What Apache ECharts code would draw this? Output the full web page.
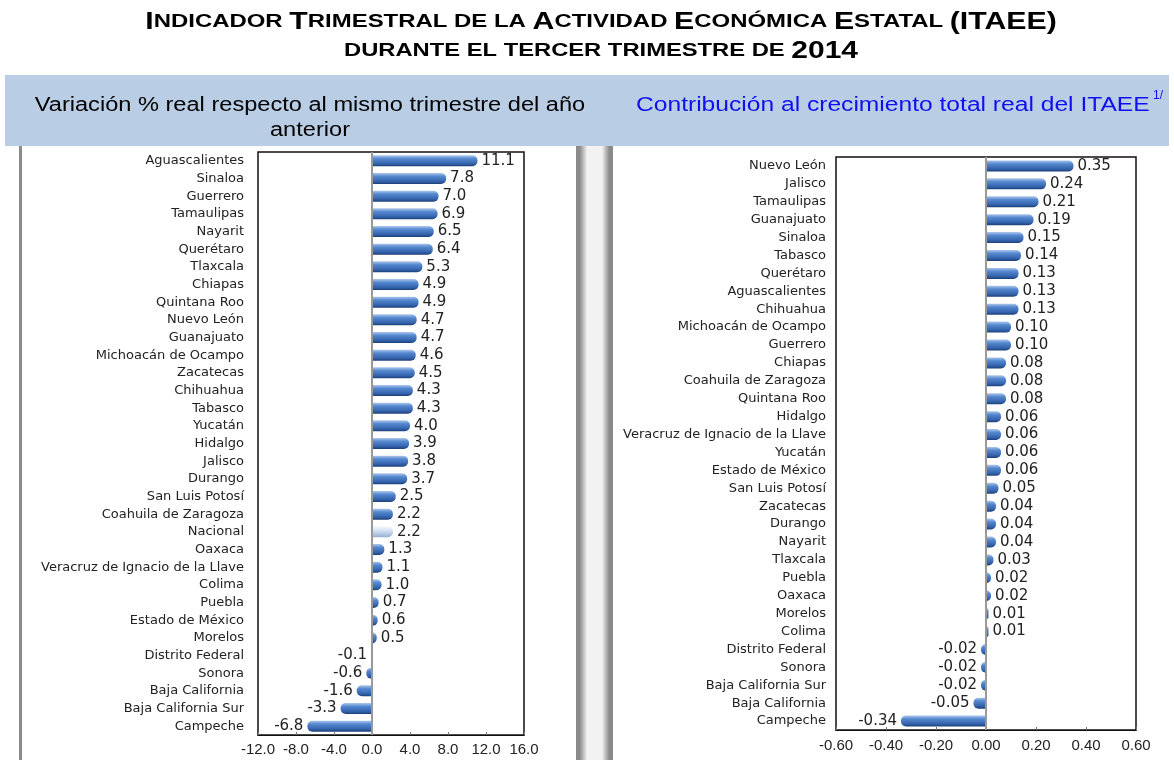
<!DOCTYPE html>
<html>
<head>
<meta charset="utf-8">
<script src="https://cdn.jsdelivr.net/npm/echarts@6/dist/echarts.min.js"></script>
<style>
  html, body { margin: 0; padding: 0; background: #fff; }
  #main { width: 1174px; height: 760px; }
</style>
</head>
<body>
<div id="main"></div>
<script>
// variación % real anual, III trimestre 2014
const estadosVar = ['Aguascalientes', 'Sinaloa', 'Guerrero', 'Tamaulipas', 'Nayarit', 'Querétaro', 'Tlaxcala',
  'Chiapas', 'Quintana Roo', 'Nuevo León', 'Guanajuato', 'Michoacán de Ocampo', 'Zacatecas', 'Chihuahua',
  'Tabasco', 'Yucatán', 'Hidalgo', 'Jalisco', 'Durango', 'San Luis Potosí', 'Coahuila de Zaragoza', 'Nacional',
  'Oaxaca', 'Veracruz de Ignacio de la Llave', 'Colima', 'Puebla', 'Estado de México', 'Morelos',
  'Distrito Federal', 'Sonora', 'Baja California', 'Baja California Sur', 'Campeche'];
const variacion = [11.1, 7.8, 7.0, 6.9, 6.5, 6.4, 5.3, 4.9, 4.9, 4.7, 4.7, 4.6, 4.5, 4.3, 4.3, 4.0, 3.9, 3.8, 3.7,
  2.5, 2.2, 2.2, 1.3, 1.1, 1.0, 0.7, 0.6, 0.5, -0.1, -0.6, -1.6, -3.3, -6.8];

// contribución al crecimiento del ITAEE
const estadosCon = ['Nuevo León', 'Jalisco', 'Tamaulipas', 'Guanajuato', 'Sinaloa', 'Tabasco', 'Querétaro',
  'Aguascalientes', 'Chihuahua', 'Michoacán de Ocampo', 'Guerrero', 'Chiapas', 'Coahuila de Zaragoza',
  'Quintana Roo', 'Hidalgo', 'Veracruz de Ignacio de la Llave', 'Yucatán', 'Estado de México', 'San Luis Potosí',
  'Zacatecas', 'Durango', 'Nayarit', 'Tlaxcala', 'Puebla', 'Oaxaca', 'Morelos', 'Colima', 'Distrito Federal',
  'Sonora', 'Baja California Sur', 'Baja California', 'Campeche'];
const contribucion = [0.35, 0.24, 0.21, 0.19, 0.15, 0.14, 0.13, 0.13, 0.13, 0.10, 0.10, 0.08, 0.08, 0.08, 0.06,
  0.06, 0.06, 0.06, 0.05, 0.04, 0.04, 0.04, 0.03, 0.02, 0.02, 0.01, 0.01, -0.02, -0.02, -0.02, -0.05, -0.34];

// escalas de los ejes
const varEje = { min: -12, max: 16, step: 4 };
const conEje = { min: -0.6, max: 0.6, step: 0.2 };

const chart = echarts.init(document.getElementById('main'));

// barra "cilindro" azul y la clara para Nacional
const azul = new echarts.graphic.LinearGradient(0, 0, 0, 1, [
  { offset: 0, color: '#aec8ec' },
  { offset: 0.3, color: '#5689d0' },
  { offset: 0.75, color: '#3464ad' },
  { offset: 1, color: '#1d3f7a' }
]);
const claro = new echarts.graphic.LinearGradient(0, 0, 0, 1, [
  { offset: 0, color: '#f4f8fd' },
  { offset: 0.4, color: '#d3e2f4' },
  { offset: 1, color: '#94aed0' }
]);

function barras(vals, nombres) {
  return vals.map((v, i) => ({
    value: v,
    itemStyle: {
      color: nombres[i] === 'Nacional' ? claro : azul,
      borderRadius: v < 0 ? [5, 0, 0, 5] : [0, 5, 5, 0]
    },
    label: { position: v < 0 ? 'left' : 'right' }
  }));
}

const fuente = 'Liberation Sans, Arial, sans-serif';
const ancha = 'DejaVu Sans, sans-serif';
const txtCat = { color: '#222', fontSize: 13, fontFamily: ancha };
const txtEje = { color: '#222', fontSize: 15, fontFamily: fuente };

const lineaCero = {
  silent: true,
  symbol: 'none',
  label: { show: false },
  lineStyle: { color: '#999', width: 2, type: 'solid' },
  data: [{ xAxis: 0 }]
};

chart.setOption({
  animation: false,
  grid: [
    { left: 258, top: 152, width: 266, height: 583, show: true, borderColor: '#111', borderWidth: 1.5 },
    { left: 836, top: 157, width: 300, height: 573, show: true, borderColor: '#111', borderWidth: 1.5 }
  ],
  xAxis: [
    {
      gridIndex: 0, type: 'value', min: varEje.min, max: varEje.max, interval: varEje.step,
      splitLine: { show: false },
      axisLine: { show: true, lineStyle: { color: '#111' } },
      axisTick: { show: true, inside: true, length: 3, lineStyle: { color: '#777' } },
      axisLabel: Object.assign({ margin: 7, formatter: v => v.toFixed(1) }, txtEje)
    },
    {
      gridIndex: 1, type: 'value', min: conEje.min, max: conEje.max, interval: conEje.step,
      splitLine: { show: false },
      axisLine: { show: true, lineStyle: { color: '#111' } },
      axisTick: { show: true, inside: true, length: 3, lineStyle: { color: '#777' } },
      axisLabel: Object.assign({ margin: 8, formatter: v => v.toFixed(2) }, txtEje)
    }
  ],
  yAxis: [
    {
      gridIndex: 0, type: 'category', data: estadosVar, inverse: true,
      axisLine: { show: false, onZero: false }, axisTick: { show: false },
      axisLabel: Object.assign({ margin: 14, interval: 0 }, txtCat)
    },
    {
      gridIndex: 1, type: 'category', data: estadosCon, inverse: true,
      axisLine: { show: false, onZero: false }, axisTick: { show: false },
      axisLabel: Object.assign({ margin: 10, interval: 0 }, txtCat)
    }
  ],
  series: [
    {
      type: 'bar', xAxisIndex: 0, yAxisIndex: 0, barWidth: 11,
      data: barras(variacion, estadosVar),
      label: { show: true, distance: 4, color: '#222', fontSize: 15, fontFamily: ancha, formatter: p => p.value.toFixed(1) },
      markLine: lineaCero
    },
    {
      type: 'bar', xAxisIndex: 1, yAxisIndex: 1, barWidth: 11,
      data: barras(contribucion, estadosCon),
      label: { show: true, distance: 4, color: '#222', fontSize: 15, fontFamily: ancha, formatter: p => p.value.toFixed(2) },
      markLine: lineaCero
    }
  ],
  graphic: [
    // franja azul de encabezados
    { type: 'rect', silent: true, z: -10, shape: { x: 5, y: 75, width: 1164, height: 71 }, style: { fill: '#b9cde5' } },
    // marcos de los paneles
    { type: 'rect', silent: true, z: -10, shape: { x: 19, y: 146, width: 3, height: 614 }, style: { fill: '#8a8a8a' } },
    {
      type: 'rect', silent: true, z: -10, shape: { x: 576, y: 146, width: 37, height: 614 },
      style: {
        fill: new echarts.graphic.LinearGradient(0, 0, 1, 0, [
          { offset: 0, color: '#8a8a8a' }, { offset: 0.1, color: '#8a8a8a' }, { offset: 0.3, color: '#f2f2f2' },
          { offset: 0.7, color: '#f2f2f2' }, { offset: 0.9, color: '#8a8a8a' }, { offset: 1, color: '#8a8a8a' }
        ])
      }
    },
    // título
    {
      type: 'text', x: 601, y: 22, scaleX: 1.26,
      style: {
        text: '{b|I}{s|NDICADOR }{b|T}{s|RIMESTRAL DE LA }{b|A}{s|CTIVIDAD }{b|E}{s|CONÓMICA }{b|E}{s|STATAL }{b|(ITAEE)}',
        align: 'center', verticalAlign: 'middle', fill: '#000',
        rich: {
          b: { fontSize: 24, fontWeight: 'bold', fontFamily: fuente, fill: '#000' },
          s: { fontSize: 19, fontWeight: 'bold', fontFamily: fuente, fill: '#000' }
        }
      }
    },
    {
      type: 'text', x: 601, y: 51, scaleX: 1.25,
      style: {
        text: '{s|DURANTE EL TERCER TRIMESTRE DE }{b|2014}',
        align: 'center', verticalAlign: 'middle', fill: '#000',
        rich: {
          b: { fontSize: 24, fontWeight: 'bold', fontFamily: fuente, fill: '#000' },
          s: { fontSize: 19, fontWeight: 'bold', fontFamily: fuente, fill: '#000' }
        }
      }
    },
    // encabezados de los paneles
    {
      type: 'text', x: 310, y: 118, scaleX: 1.18,
      style: {
        text: 'Variación % real respecto al mismo trimestre del año\nanterior',
        align: 'center', verticalAlign: 'middle', lineHeight: 25,
        font: '20px ' + fuente, fill: '#000'
      }
    },
    {
      type: 'text', x: 636, y: 105, scaleX: 1.23,
      style: { text: 'Contribución al crecimiento total real del ITAEE', align: 'left', verticalAlign: 'middle', font: '20px ' + fuente, fill: '#1010f0' }
    },
    {
      type: 'text', x: 1153, y: 96,
      style: { text: '1/', align: 'left', verticalAlign: 'middle', font: '12px ' + fuente, fill: '#1010f0' }
    }
  ]
});
</script>
</body>
</html>
